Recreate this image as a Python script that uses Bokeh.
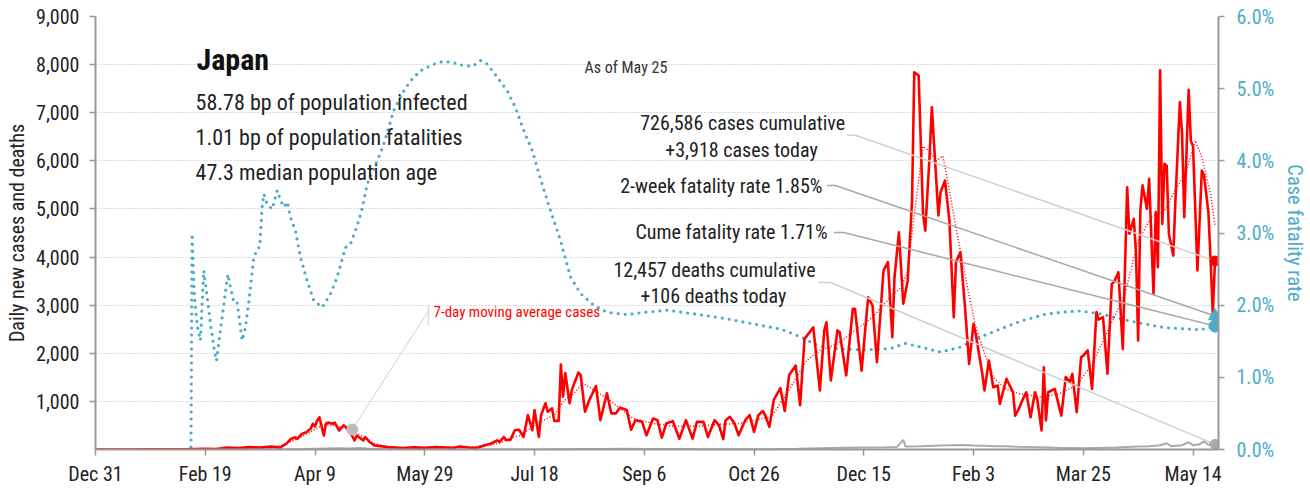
import numpy as np
import pandas as pd
from bokeh.plotting import figure
from bokeh.models import (Range1d, LinearAxis, FixedTicker, NumeralTickFormatter,
                          PrintfTickFormatter, Label)
from bokeh.embed import file_html
from bokeh.resources import INLINE

# ---------------- DATA (days counted from 2019-12-31) ----------------
tick_dates = ["2019-12-31", "2020-02-19", "2020-04-09", "2020-05-29", "2020-07-18",
              "2020-09-06", "2020-10-26", "2020-12-15", "2021-02-03", "2021-03-25",
              "2021-05-14"]
tick_labels = ["Dec 31", "Feb 19", "Apr 9", "May 29", "Jul 18", "Sep 6", "Oct 26",
               "Dec 15", "Feb 3", "Mar 25", "May 14"]

case_days = [0, 15, 28, 40, 50, 55, 60, 65, 70, 75, 80, 84, 87, 89, 91, 92, 94, 96, 98, 99,
             100, 101, 102, 104, 105, 106, 108, 109, 111, 113, 114, 116, 118, 119, 122, 123,
             125, 127, 130, 133, 137, 140, 145, 150, 155, 160, 163, 166, 170, 174, 177, 180,
             183, 184, 186, 187, 189, 191, 193, 195, 197, 199, 200, 202, 203, 205, 206, 208,
             209, 211, 212, 213, 214, 216, 217, 220, 221, 223, 225, 228, 230, 233, 235, 237,
             239, 242, 244, 246, 249, 251, 254, 256, 258, 260, 263, 266, 269, 272, 274, 277,
             279, 282, 284, 286, 287, 289, 291, 293, 296, 298, 300, 302, 304, 305, 307, 309,
             312, 314, 316, 319, 321, 323, 327, 330, 332, 333, 335, 338, 339, 342, 345, 346,
             349, 352, 354, 356, 359, 361, 363, 364, 366, 368, 370, 372, 373, 375, 377, 378,
             380, 381, 384, 385, 387, 389, 391, 392, 394, 396, 398, 400, 401, 404, 405, 407,
             409, 411, 412, 415, 418, 419, 421, 422, 424, 426, 428, 429, 431, 432, 433, 434,
             437, 440, 442, 444, 445, 447, 449, 450, 452, 454, 456, 457, 459, 461, 463, 464,
             466, 468, 470, 471, 473, 474, 475, 476, 477, 479, 480, 482, 483, 484, 485, 486,
             487, 488, 489, 491, 492, 494, 495, 496, 498, 499, 500, 502, 504, 505, 507, 508,
             509, 510]
case_values = [0, 0, 2, 5, 15, 10, 40, 30, 50, 40, 60, 40, 120, 220, 255, 220, 325, 360, 430, 535,
               480, 600, 670, 290, 535, 560, 535, 560, 395, 500, 470, 360, 190, 290, 190, 255,
               150, 85, 70, 50, 40, 30, 45, 35, 50, 40, 35, 60, 40, 35, 85, 120,
               190, 155, 260, 200, 200, 400, 410, 260, 715, 400, 820, 260, 715, 960, 785, 855,
               595, 595, 1765, 1100, 1590, 960, 1240, 1600, 1550, 785, 1030, 1320, 610, 1170, 750, 750,
               870, 820, 410, 610, 575, 295, 645, 610, 245, 540, 590, 225, 610, 225, 575, 575,
               260, 610, 505, 215, 600, 680, 550, 295, 610, 715, 365, 715, 800, 720, 470, 1030,
               1275, 800, 1550, 1745, 920, 2300, 2540, 1225, 2475, 2645, 1435, 2475, 2440, 1540, 2925, 2925,
               1640, 3165, 2990, 1815, 3720, 3895, 2335, 3580, 4515, 3030, 3510, 5175, 7840, 7775, 4900, 4550,
               6110, 7115, 4865, 5350, 5590, 4760, 2750, 3895, 4100, 3030, 1780, 2610, 2400, 1575, 1225, 1850,
               1295, 1330, 950, 1470, 1190, 705, 880, 1000, 1190, 670, 1190, 1050, 395, 1710, 605, 1190,
               1260, 705, 1505, 1400, 1575, 775, 1920, 1950, 2060, 1260, 2855, 2700, 2750, 1575, 3445, 3480,
               3685, 2090, 5450, 4485, 4795, 4100, 2265, 4970, 5490, 5000, 5625, 3235, 4935, 3790, 7880, 4690,
               5940, 5900, 4485, 4030, 5200, 7220, 6560, 4830, 7475, 6420, 6300, 3720, 5800, 5695, 4935, 3930,
               2820, 3918]

avg_days = [0, 40, 50, 60, 70, 80, 85, 90, 95, 100, 103, 106, 110, 114, 117, 120, 123, 127, 131,
            136, 145, 160, 170, 180, 185, 190, 194, 201, 209, 213, 218, 222, 227, 233, 239, 245,
            254, 263, 275, 285, 293, 300, 308, 315, 324, 330, 338, 348, 354, 362, 367, 370, 372,
            375, 377, 380, 383, 386, 389, 392, 395, 398, 401, 405, 409, 415, 421, 431, 439, 447,
            454, 462, 469, 475, 481, 487, 491, 497, 501, 504, 508, 510]
avg_values = [0, 1, 8, 20, 30, 45, 90, 180, 290, 420, 500, 520, 480, 440, 415, 320, 230, 130, 70,
              45, 40, 40, 50, 90, 150, 250, 300, 540, 715, 995, 1170, 1380, 1240, 1065, 855, 645,
              540, 485, 480, 525, 540, 610, 680, 1170, 1850, 2060, 2200, 2540, 2750, 3165, 3370, 3700, 4500,
              5600, 6300, 6200, 6000, 6100, 5400, 4600, 3900, 3200, 2550, 2000, 1500, 1250, 1160, 1090, 1160, 1330,
              1780, 2540, 3235, 4345, 4830, 4970, 5315, 5800, 6420, 6075, 5315, 4650]

death_days = [0, 45, 55, 65, 75, 85, 95, 100, 105, 110, 115, 120, 125, 130, 140, 150, 160, 190,
              200, 210, 220, 230, 240, 250, 260, 270, 280, 290, 300, 310, 320, 330, 340, 350,
              360, 365, 368, 369, 375, 380, 385, 390, 395, 400, 405, 410, 415, 420, 425, 430,
              435, 440, 445, 450, 455, 460, 465, 470, 475, 480, 485, 488, 490, 495, 498, 500,
              503, 505, 507, 510]
death_values = [0, 0, 1, 2, 3, 5, 10, 15, 20, 25, 20, 30, 15, 12, 5, 2, 1, 1,
                2, 5, 8, 12, 14, 12, 10, 8, 7, 6, 5, 8, 15, 25, 35, 40,
                45, 50, 200, 60, 65, 75, 85, 90, 95, 85, 80, 70, 65, 55, 50, 45,
                40, 30, 30, 25, 30, 35, 40, 50, 60, 70, 90, 130, 70, 90, 150, 90,
                110, 170, 100, 106]

cfr_days = [0, 43.5, 44, 44.8, 45.6, 46.5, 47.8, 49.3, 50.5, 52.4, 53.9, 55.1, 56.9, 58.5, 60.3,
            61.5, 63, 64.5, 66.8, 68.3, 69.9, 72.1, 73.9, 74.8, 75.9, 76.7, 78.2, 80.5, 82.8,
            84.3, 85.8, 87.3, 88.8, 91.1, 93.4, 96.4, 99.5, 103.3, 107.1, 110.1, 113.9, 116.2,
            119.2, 121.5, 123.8, 128.3, 131, 135.9, 140.5, 143.5, 148.1, 153.4, 157.2, 161.7,
            167.8, 171.8, 175.4, 178.5, 183, 187.6, 191.3, 195.1, 199, 202.7, 207.3, 211.8,
            216.4, 221, 227, 233.1, 242.2, 249.8, 260.5, 272.6, 287.8, 303, 312, 318, 323.5,
            327.3, 334.9, 350, 362.2, 369, 375.9, 385, 394.1, 403.2, 412.3, 421.4, 433.6, 442.7,
            448.7, 457.9, 467, 476.1, 486.7, 497.4, 503.4, 510]
cfr_values = [0, 0, 2.99, 2.25, 1.93, 1.7, 1.51, 2.48, 2.2, 1.74, 1.42, 1.23, 1.65, 2.02, 2.43,
              2.25, 2.04, 2.04, 1.51, 1.69, 2.06, 2.66, 2.79, 2.8, 3.36, 3.54, 3.40, 3.33, 3.59,
              3.45, 3.36, 3.43, 3.22, 3.03, 2.66, 2.34, 2.06, 1.97, 2.16, 2.39, 2.80, 2.85,
              3.10, 3.34, 3.68, 4.0, 4.2, 4.70, 4.97, 5.11, 5.25, 5.33, 5.37, 5.37,
              5.32, 5.31, 5.39, 5.34, 5.16, 4.97, 4.74, 4.42, 4.14, 3.75, 3.31, 2.9,
              2.39, 2.16, 2.0, 1.90, 1.87, 1.90, 1.93, 1.88, 1.81, 1.72, 1.67, 1.60, 1.53,
              1.46, 1.40, 1.38, 1.40, 1.47, 1.42, 1.35, 1.42, 1.56, 1.67, 1.78, 1.88, 1.91,
              1.92, 1.88, 1.81, 1.75, 1.69, 1.67, 1.66, 1.71]

two_week_cfr = 1.85
cume_cfr = 1.71
avg_marker_day = 117

country = "Japan"
stats_lines = ["58.78 bp of population infected",
               "1.01 bp of population fatalities",
               "47.3 median population age"]
as_of = "As of May 25"
cases_text = ["726,586 cases cumulative", "+3,918 cases today"]
deaths_text = ["12,457 deaths cumulative", "+106 deaths today"]
two_week_text = "2-week fatality rate 1.85%"
cume_text = "Cume fatality rate 1.71%"
avg_text = "7-day moving average cases"

# ---------------- helpers ----------------
BASE = pd.Timestamp("2019-12-31")
EPOCH = pd.Timestamp("1970-01-01")


def to_dt(days):
    return BASE + pd.to_timedelta(np.asarray(days, dtype=float), unit="D")


def to_ms(day):
    return (BASE + pd.Timedelta(days=float(day)) - EPOCH) / pd.Timedelta(milliseconds=1)


FONT = "Roboto Condensed, Roboto, sans-serif"
RED = "#ff0000"
BLUE = "#4bacc6"
GRAY = "#aaaaaa"
TXT = "#222222"

p = figure(frame_width=1123, frame_height=433, x_axis_type="datetime",
           x_range=Range1d(to_ms(0), to_ms(511.6)), y_range=Range1d(0, 9000),
           output_backend="svg", toolbar_location=None,
           min_border_left=95, min_border_right=88, min_border_top=16, min_border_bottom=32)
p.outline_line_color = None
p.background_fill_color = "white"
p.border_fill_color = "white"
p.extra_y_ranges = {"cfr": Range1d(0, 6)}

# axes
tick_ms = [(pd.Timestamp(d) - EPOCH) / pd.Timedelta(milliseconds=1) for d in tick_dates]
p.xaxis.ticker = FixedTicker(ticks=tick_ms)
p.xaxis.major_label_overrides = {t: lab for t, lab in zip(tick_ms, tick_labels)}
p.yaxis.ticker = FixedTicker(ticks=list(range(1000, 9001, 1000)))
p.yaxis.formatter = NumeralTickFormatter(format="0,0")
p.yaxis.axis_label = "Daily new cases and deaths"

right = LinearAxis(y_range_name="cfr", ticker=FixedTicker(ticks=[0, 1, 2, 3, 4, 5, 6]),
                   formatter=PrintfTickFormatter(format="%.1f%%"),
                   axis_label="Case fatality rate")
p.add_layout(right, "right")

for ax in [p.xaxis[0], p.yaxis[0], right]:
    ax.axis_line_color = "#999999"
    ax.axis_line_width = 2
    ax.major_tick_line_color = "#999999"
    ax.major_tick_line_width = 1.5
    ax.major_tick_out = 6
    ax.major_tick_in = 0
    ax.minor_tick_line_color = None
    ax.major_label_text_font = FONT
    ax.major_label_text_font_size = "20px"
    ax.major_label_text_color = TXT
    ax.axis_label_text_font = FONT
    ax.axis_label_text_font_size = "20px"
    ax.axis_label_text_font_style = "normal"
    ax.axis_label_text_color = TXT

p.xaxis.major_label_standoff = 6
p.yaxis.major_label_standoff = 10
p.yaxis.axis_label_standoff = 4
right.major_label_standoff = 12
right.axis_label_standoff = 6
right.major_label_text_color = BLUE
right.axis_label_text_color = BLUE
right.axis_label_text_font_size = "20.5px"

p.xgrid.visible = False
p.ygrid.grid_line_color = "#bbbbbb"
p.ygrid.grid_line_dash = "1 2"
p.ygrid.grid_line_width = 1

# series
p.line(to_dt(cfr_days), cfr_values, y_range_name="cfr", line_color=BLUE, line_width=3.2,
       line_dash="0 7", line_cap="round")
p.line(to_dt(death_days), death_values, line_color=GRAY, line_width=2)
p.line(to_dt(case_days), case_values, line_color=RED, line_width=2.6, line_join="round")
p.line(to_dt(avg_days), avg_values, line_color=RED, line_width=1.5, line_dash="1 2")

# leader lines
last_day = case_days[-1]
LL = "#d0d0d0"
LD = "#a8a8a8"
p.line(to_dt([342.4, 346.2, last_day]), [6533, 6533, case_values[-1]], line_color=LL, line_width=1.5)
p.line(to_dt([333.3, 337.1, last_day]), [3.658, 3.658, two_week_cfr], y_range_name="cfr",
       line_color=LD, line_width=1.5)
p.line(to_dt([336.4, 340.9, last_day]), [3.007, 3.007, cume_cfr], y_range_name="cfr",
       line_color=LD, line_width=1.5)
p.line(to_dt([329.4, 334.9, last_day]), [3471, 3471, death_values[-1]], line_color=LL, line_width=1.5)
mi = avg_days.index(avg_marker_day)
p.line(to_dt([avg_marker_day, 151.8]), [avg_values[mi], 2889], line_color=LL, line_width=1)
p.line(to_dt([151.6, 151.6]), [2993, 2577], line_color=LL, line_width=1)

# end markers
p.scatter(to_dt([avg_marker_day]), [avg_values[mi]], size=11, color="#bbbbbb")
p.scatter(to_dt([last_day]), [case_values[-1]], size=10, color=RED)
p.scatter(to_dt([last_day]), [death_values[-1]], size=10, color=GRAY)
p.scatter(to_dt([last_day]), [cume_cfr], y_range_name="cfr", size=12, color=BLUE)
p.scatter(to_dt([last_day]), [two_week_cfr], y_range_name="cfr", size=13, color=BLUE,
          marker="triangle")


def add_label(day, y, text, size, align="left", color=TXT, style="normal", yname="default"):
    p.add_layout(Label(x=to_ms(day), y=y, text=text, text_font=FONT, text_font_size=size,
                       text_align=align, text_baseline="alphabetic", text_color=color,
                       text_font_style=style, y_range_name=yname))


add_label(46.0, 8115, country, "30px", style="bold", color="#111111")
for txt, yy in zip(stats_lines, [7212, 6485, 5757]):
    add_label(45.6, yy, txt, "22px")
add_label(222.8, 7946, as_of, "16px", color="#333333")
add_label(294.8, 6789, cases_text[0], "20px", align="center")
add_label(294.3, 6234, cases_text[1], "20px", align="center")
add_label(331.2, 5473, two_week_text, "20px", align="right")
add_label(333.5, 4517, cume_text, "20px", align="right")
add_label(282.0, 3739, deaths_text[0], "20px", align="center")
add_label(281.5, 3186, deaths_text[1], "20px", align="center")
add_label(154.0, 2851, avg_text, "15px", color=RED)

open("out.html", "w").write(file_html(p, INLINE))
